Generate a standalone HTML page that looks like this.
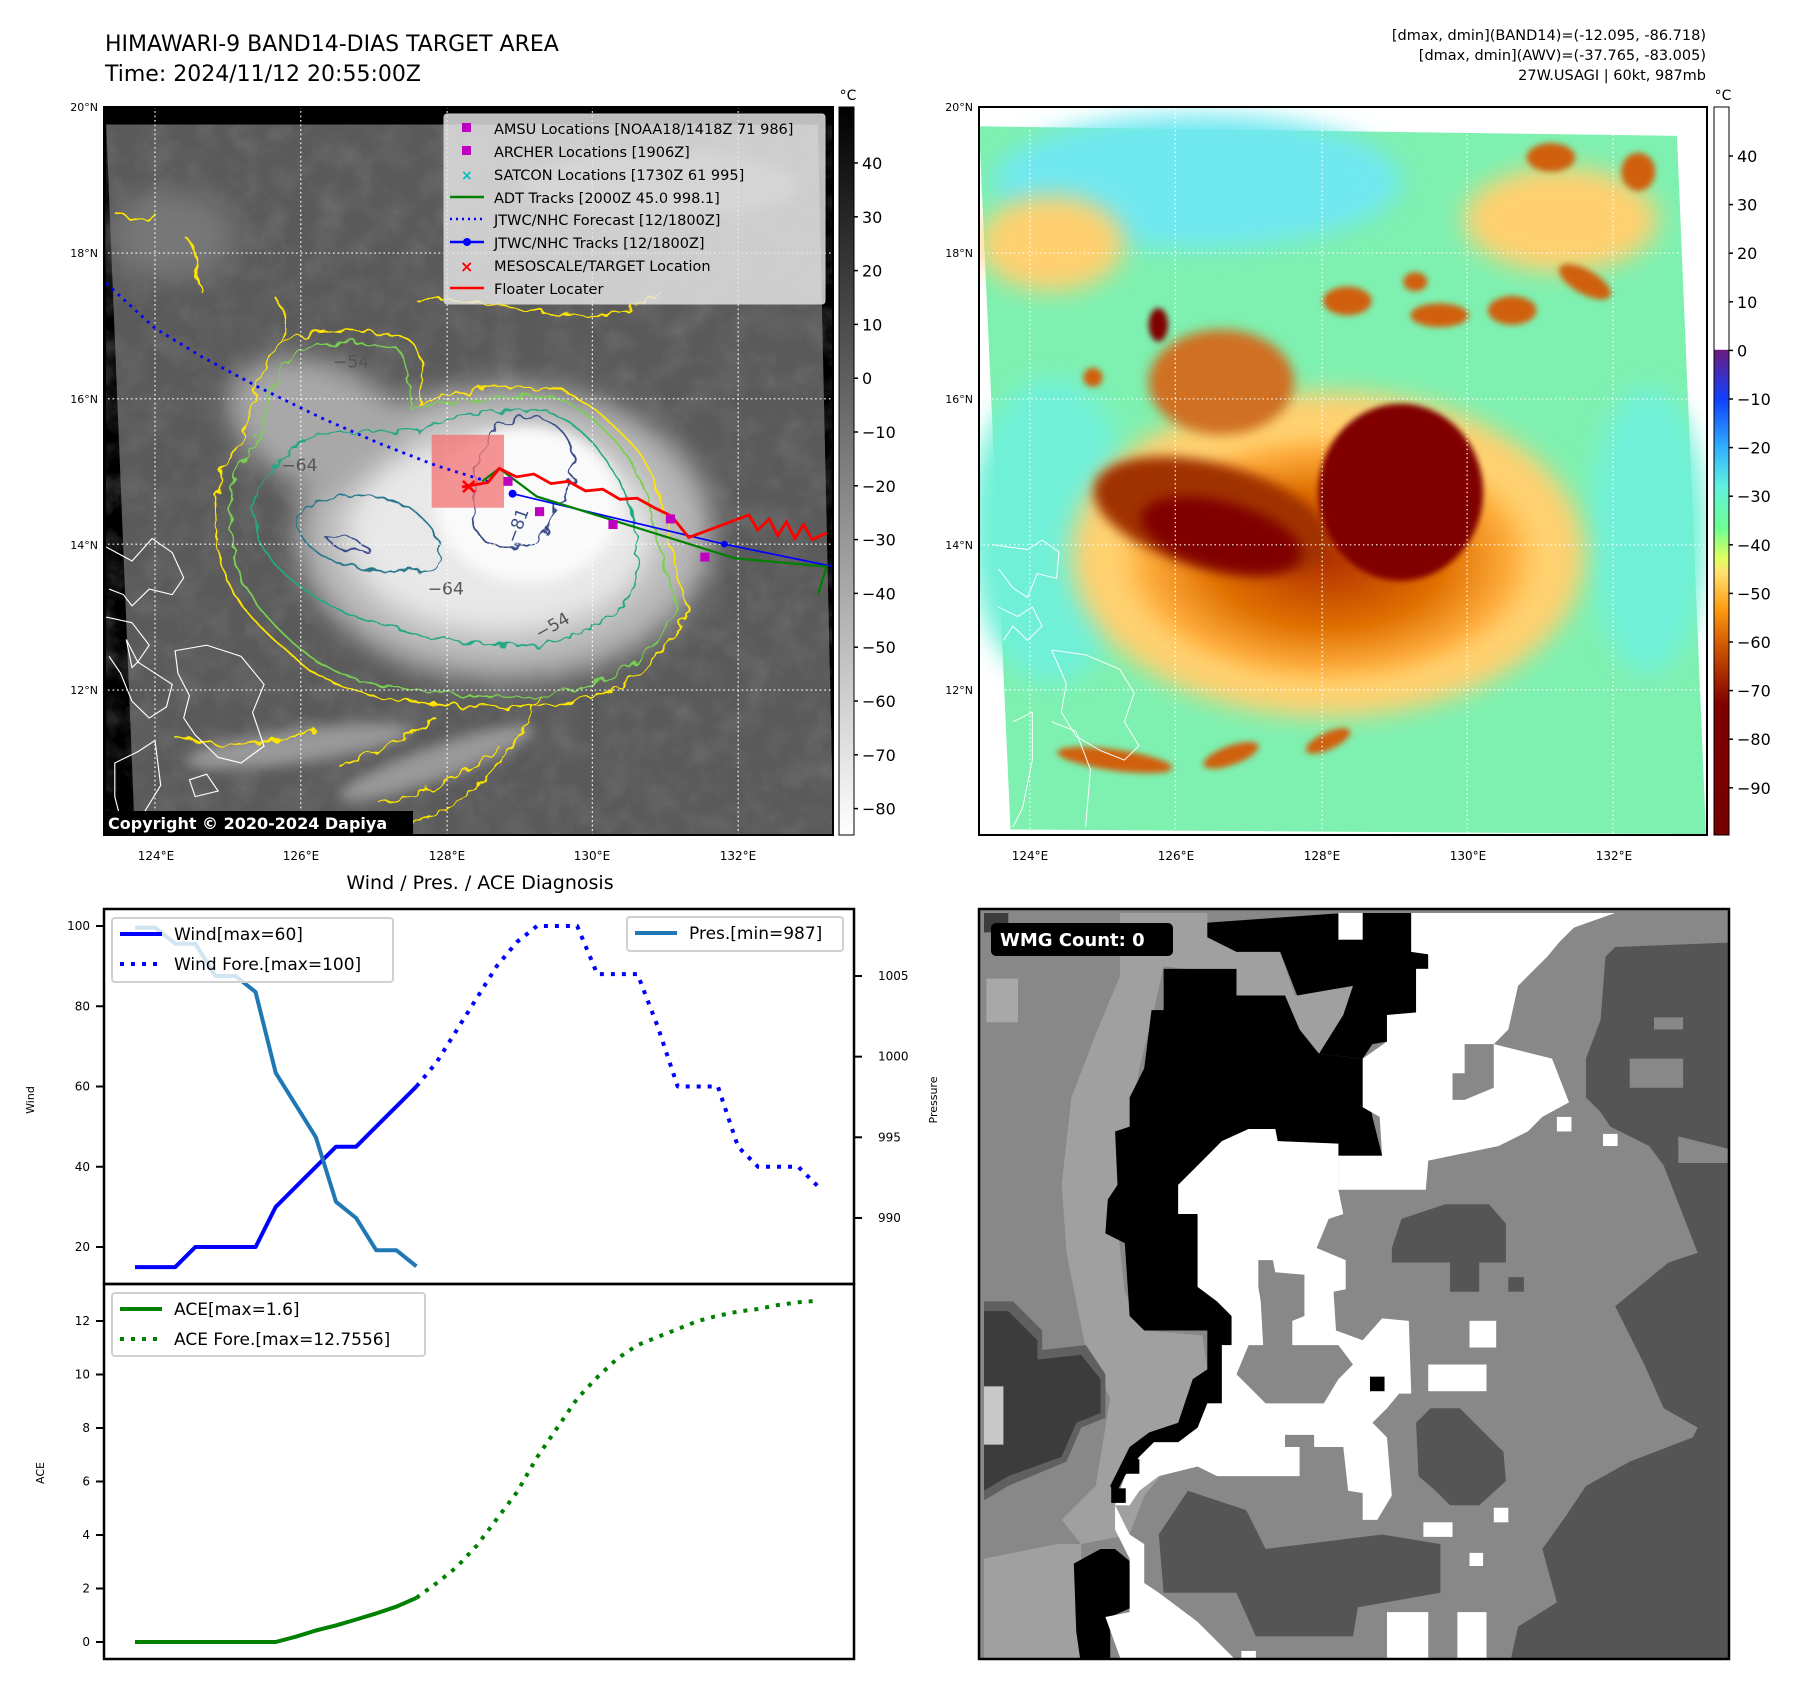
<!DOCTYPE html>
<html><head><meta charset="utf-8"><style>
html,body{margin:0;padding:0;background:#fff;}
svg{display:block;font-family:"DejaVu Sans","Liberation Sans",sans-serif;}
</style></head><body>
<svg id="root" width="1797" height="1696" viewBox="0 0 1797 1696" xmlns="http://www.w3.org/2000/svg">
<defs>
<filter id="b25" x="-50%" y="-50%" width="200%" height="200%"><feGaussianBlur stdDeviation="25"/></filter>
<filter id="b12" x="-50%" y="-50%" width="200%" height="200%"><feGaussianBlur stdDeviation="12"/></filter>
<filter id="b6" x="-50%" y="-50%" width="200%" height="200%"><feGaussianBlur stdDeviation="6"/></filter>
<filter id="wig" x="-10%" y="-10%" width="120%" height="120%"><feTurbulence type="fractalNoise" baseFrequency="0.04" numOctaves="2" seed="3"/><feDisplacementMap in="SourceGraphic" scale="22"/></filter>
<filter id="tex" x="0" y="0" width="100%" height="100%"><feTurbulence type="fractalNoise" baseFrequency="0.02" numOctaves="4" seed="7"/><feColorMatrix type="matrix" values="0 0 0 0 0.2  0 0 0 0 0.2  0 0 0 0 0.2  0.9 0.9 0 0 -0.75"/></filter>
<linearGradient id="cbL" x1="0" y1="0" x2="0" y2="1"><stop offset="0" stop-color="#000"/><stop offset="1" stop-color="#fff"/></linearGradient>
<linearGradient id="cbR" x1="0" y1="0" x2="0" y2="1">
<stop offset="0" stop-color="#fff"/><stop offset="0.333" stop-color="#fff"/><stop offset="0.334" stop-color="#6a1c80"/>
<stop offset="0.401" stop-color="#1040ff"/><stop offset="0.468" stop-color="#30b0ff"/><stop offset="0.52" stop-color="#60f0e0"/>
<stop offset="0.58" stop-color="#70ff90"/><stop offset="0.62" stop-color="#e0ff60"/><stop offset="0.64" stop-color="#ffe070"/>
<stop offset="0.69" stop-color="#ff9a10"/><stop offset="0.74" stop-color="#d05800"/><stop offset="0.79" stop-color="#a02000"/>
<stop offset="0.82" stop-color="#800000"/><stop offset="1" stop-color="#780000"/></linearGradient>
<radialGradient id="orangeR"><stop offset="0" stop-color="#b03000"/><stop offset="0.5" stop-color="#e07000"/><stop offset="0.8" stop-color="#ffb040"/><stop offset="1" stop-color="#ffe080" stop-opacity="0"/></radialGradient>
<clipPath id="clipL"><rect x="104" y="107" width="729" height="728"/></clipPath>
<clipPath id="clipR"><rect x="979" y="107" width="728" height="728"/></clipPath>
<clipPath id="clipBR"><rect x="979" y="909" width="750" height="750"/></clipPath>
</defs>

<text x="105" y="51" font-size="22">HIMAWARI-9 BAND14-DIAS TARGET AREA</text>
<text x="105" y="81" font-size="22">Time: 2024/11/12 20:55:00Z</text>
<g font-size="14.5" text-anchor="end">
<text x="1706" y="40">[dmax, dmin](BAND14)=(-12.095, -86.718)</text>
<text x="1706" y="60">[dmax, dmin](AWV)=(-37.765, -83.005)</text>
<text x="1706" y="80">27W.USAGI | 60kt, 987mb</text>
</g>

<g>
<rect x="104" y="107" width="729" height="728" fill="#000"/>
<g clip-path="url(#clipL)">
<g transform="scale(0.574 0.561)">
<polygon points="185,222 1425,222 1452,1490 235,1490" fill="#5a5a5a"/>
<polygon points="185,222 1425,222 1452,1490 235,1490" fill="#fff" filter="url(#tex)" opacity="0.7"/>
<ellipse cx="880" cy="950" rx="360" ry="260" fill="#b8b8b8" filter="url(#b25)"/>
<ellipse cx="560" cy="760" rx="170" ry="110" fill="#a8a8a8" filter="url(#b25)" transform="rotate(25 560 760)"/>
<ellipse cx="870" cy="950" rx="270" ry="180" fill="#e8e8e8" filter="url(#b25)"/>
<ellipse cx="920" cy="900" rx="160" ry="140" fill="#fafafa" filter="url(#b12)"/>
<ellipse cx="520" cy="1330" rx="200" ry="30" fill="#999" filter="url(#b12)" transform="rotate(-8 520 1330)"/>
<ellipse cx="760" cy="1360" rx="180" ry="30" fill="#999" filter="url(#b12)" transform="rotate(-20 760 1360)"/>
<ellipse cx="1150" cy="330" rx="240" ry="60" fill="#888" filter="url(#b12)"/>
<ellipse cx="300" cy="420" rx="110" ry="80" fill="#777" filter="url(#b25)"/>
<g fill="none" stroke-width="3" filter="url(#wig)">
<path stroke="#ffe600" d="M375,890 C380,820 430,790 440,740 C440,680 470,620 520,600 C580,580 640,590 700,600 C740,610 740,680 730,720 C770,700 850,690 940,690 C1000,690 1050,740 1090,780 C1130,820 1150,870 1160,930 C1170,990 1190,1050 1200,1090 C1170,1160 1100,1230 1000,1250 C900,1270 800,1260 720,1250 C620,1240 560,1220 500,1160 C440,1110 400,1060 380,990 Z"/>
<path stroke="#7ad151" d="M400,890 C405,830 450,800 460,750 C465,690 490,640 530,620 C580,605 640,610 690,620 C715,640 715,690 715,730 C770,715 850,705 935,705 C990,705 1040,750 1075,790 C1110,830 1130,880 1140,935 C1150,990 1170,1050 1180,1085 C1150,1150 1090,1210 1000,1230 C900,1250 800,1240 725,1230 C630,1220 570,1200 515,1150 C460,1100 420,1050 405,990 Z"/>
<path stroke="#22a884" d="M440,900 C450,850 490,810 520,790 C560,760 640,770 720,770 C800,735 900,725 960,735 C1020,760 1060,820 1090,880 C1110,940 1120,1000 1100,1060 C1050,1120 980,1150 900,1150 C800,1150 700,1130 620,1100 C540,1070 470,1010 450,960 Z"/>
<path stroke="#2a788e" d="M520,920 C560,870 640,880 700,900 C750,920 780,980 760,1010 C700,1030 620,1020 560,990 C530,970 515,950 520,920 Z"/>
<path stroke="#3b4e8a" d="M830,890 C820,820 850,760 900,745 C960,735 1005,775 1000,840 C990,880 970,890 960,930 C940,980 880,990 840,960 C820,940 820,920 830,890 Z"/>
<path stroke="#3b4e8a" d="M570,960 C590,950 620,960 640,975 C620,990 590,985 570,960 Z"/>
<path stroke="#ffe600" d="M300,1310 C380,1340 460,1330 550,1300 M590,1365 C680,1330 730,1300 760,1280 M660,1430 C730,1420 800,1390 870,1330 M720,1470 C800,1440 880,1380 940,1240 M200,380 C240,400 260,390 270,380 M320,420 C350,440 340,480 350,520 M730,540 C800,520 900,560 1000,560 C1080,570 1120,540 1150,520 M480,530 C500,560 500,600 490,620"/>
</g>
<g font-size="30" fill="#555">
<text x="580" y="655">−54</text><text x="490" y="840">−64</text><text x="745" y="1060">−64</text><text x="940" y="1140" transform="rotate(-30 940 1140)">−54</text><text x="900" y="970" transform="rotate(-70 900 970)" fill="#3b4e8a">−81</text>
</g>
<g fill="none" stroke="#fff" stroke-width="2">
<path d="M185,975 L230,1000 L265,960 L300,985 L320,1030 L300,1060 L260,1050 L230,1080 L215,1060 L190,1050"/>
<path d="M185,1100 L230,1110 L260,1150 L240,1180 L270,1200 L300,1220 L290,1260 L260,1280 L230,1250 L210,1200 L190,1170"/>
<path d="M305,1160 L360,1150 L420,1170 L460,1220 L440,1270 L460,1330 L420,1360 L380,1350 L340,1310 L320,1280 L330,1240 L310,1200 Z"/>
<path d="M200,1360 L240,1340 L270,1320 L280,1400 L250,1450 L215,1480 L200,1420 Z"/>
<path d="M220,1140 L240,1180 L230,1190 Z M330,1390 L360,1380 L380,1410 L340,1420 Z"/>
</g>
<g stroke="#fff" stroke-width="2" stroke-dasharray="3 5" fill="none">
<path d="M270,190 V1490 M524,190 V1490 M779,190 V1490 M1032,190 V1490 M1286,190 V1490"/>
<path d="M180,451 H1452 M180,711 H1452 M180,970 H1452 M180,1230 H1452"/>
</g>
<rect x="752" y="775" width="126" height="130" fill="#f07070" opacity="0.75"/>
<polyline points="185,505 270,585 350,635 450,690 560,745 660,790 760,830 855,860" fill="none" stroke="#0000ff" stroke-width="5" stroke-dasharray="5 9"/>
<polyline points="893,880 1262,970 1452,1010" fill="none" stroke="#0000ff" stroke-width="3"/>
<circle cx="893" cy="880" r="7" fill="#0000ff"/><circle cx="1262" cy="970" r="6" fill="#0000ff"/>
<polyline points="840,858 870,835 935,885 1280,995 1310,998 1440,1010 1425,1060" fill="none" stroke="#008000" stroke-width="4"/>
<polyline points="805,868 850,860 870,835 900,850 930,845 960,862 990,858 1020,875 1050,872 1080,890 1110,888 1140,905 1170,920 1200,958 1305,918 1320,945 1340,925 1355,955 1370,930 1385,960 1400,935 1415,962 1440,950" fill="none" stroke="#ff0000" stroke-width="5"/>
<g fill="#c000c0">
<rect x="877" y="850" width="16" height="16"/><rect x="932" y="904" width="16" height="16"/><rect x="1060" y="927" width="16" height="16"/><rect x="1220" y="985" width="16" height="16"/><rect x="1160" y="917" width="16" height="16"/>
</g>
<text x="800" y="880" fill="#ff0000" font-size="40" font-weight="bold">×</text>
</g>
</g>
<g>
<rect x="444" y="114" width="381" height="190" rx="3" fill="#e6e6e6" fill-opacity="0.82" stroke="#ccc"/>
<g font-size="14.5" fill="#000">
<rect x="462" y="123" width="9" height="9" fill="#c000c0"/><text x="494" y="134">AMSU Locations [NOAA18/1418Z 71 986]</text>
<rect x="462" y="146" width="9" height="9" fill="#c000c0"/><text x="494" y="157">ARCHER Locations [1906Z]</text>
<text x="461" y="180" fill="#00c0c0" font-size="14" font-weight="bold">×</text><text x="494" y="180">SATCON Locations [1730Z 61 995]</text>
<line x1="450" y1="197" x2="484" y2="197" stroke="#008000" stroke-width="2.5"/><text x="494" y="203">ADT Tracks [2000Z 45.0 998.1]</text>
<line x1="450" y1="219" x2="484" y2="219" stroke="#0000ff" stroke-width="2.5" stroke-dasharray="2 4"/><text x="494" y="225">JTWC/NHC Forecast [12/1800Z]</text>
<line x1="450" y1="242" x2="484" y2="242" stroke="#0000ff" stroke-width="2.5"/><circle cx="467" cy="242" r="4" fill="#0000ff"/><text x="494" y="248">JTWC/NHC Tracks [12/1800Z]</text>
<text x="460" y="272" fill="#ff0000" font-size="16" font-weight="bold">×</text><text x="494" y="271">MESOSCALE/TARGET Location</text>
<line x1="450" y1="288" x2="484" y2="288" stroke="#ff0000" stroke-width="2.5"/><text x="494" y="294">Floater Locater</text>
</g>
</g>
<rect x="104" y="811" width="309" height="24" fill="#000"/>
<text x="108" y="829" fill="#fff" font-size="16" font-weight="bold">Copyright © 2020-2024 Dapiya</text>
<rect x="104" y="107" width="729" height="728" fill="none" stroke="#000" stroke-width="2"/>
<g font-size="12" text-anchor="middle">
<text x="156" y="860">124°E</text><text x="301" y="860">126°E</text><text x="447" y="860">128°E</text><text x="592" y="860">130°E</text><text x="738" y="860">132°E</text></g>
<g font-size="11" text-anchor="end">
<text x="98" y="111">20°N</text><text x="98" y="257">18°N</text><text x="98" y="403">16°N</text><text x="98" y="549">14°N</text><text x="98" y="694">12°N</text></g>
<g>
<rect x="839" y="107" width="15" height="728" fill="url(#cbL)" stroke="#000" stroke-width="1"/>
<text x="848" y="100" font-size="14" text-anchor="middle">°C</text>
<g font-size="16" id="cbLticks"></g>
</g>

<g>
<g clip-path="url(#clipR)">
<g transform="translate(979 100) scale(0.4847 0.4783)">
<polygon points="0,55 1440,75 1500,1535 65,1525" fill="#7ef0b0"/>
<ellipse cx="450" cy="170" rx="420" ry="140" fill="#70e8f0" filter="url(#b25)"/>
<ellipse cx="150" cy="900" rx="170" ry="320" fill="#70f0d8" filter="url(#b25)"/>
<ellipse cx="1380" cy="900" rx="120" ry="300" fill="#70f0d8" filter="url(#b25)"/>
<ellipse cx="720" cy="950" rx="530" ry="340" fill="#ffd070" filter="url(#b25)"/>
<ellipse cx="720" cy="960" rx="480" ry="290" fill="url(#orangeR)" filter="url(#b12)"/>
<ellipse cx="150" cy="300" rx="150" ry="100" fill="#ffd070" filter="url(#b25)"/>
<ellipse cx="1200" cy="250" rx="200" ry="110" fill="#ffd070" filter="url(#b25)"/>
<ellipse cx="500" cy="590" rx="150" ry="110" fill="#d07020" filter="url(#b12)"/>
<ellipse cx="480" cy="870" rx="250" ry="110" fill="#a03000" filter="url(#b12)" transform="rotate(15 480 870)"/>
<ellipse cx="870" cy="820" rx="170" ry="185" fill="#800000" filter="url(#b6)"/>
<ellipse cx="500" cy="910" rx="170" ry="70" fill="#800000" filter="url(#b12)" transform="rotate(15 500 910)"/>
<g fill="#d06010" filter="url(#b6)">
<ellipse cx="950" cy="450" rx="60" ry="25"/><ellipse cx="760" cy="420" rx="50" ry="30"/><ellipse cx="1250" cy="380" rx="60" ry="25" transform="rotate(30 1250 380)"/><ellipse cx="1100" cy="440" rx="50" ry="30"/><ellipse cx="900" cy="380" rx="25" ry="20"/><ellipse cx="1360" cy="150" rx="35" ry="40"/><ellipse cx="1180" cy="120" rx="50" ry="30"/>
<ellipse cx="280" cy="1380" rx="120" ry="22" transform="rotate(8 280 1380)"/><ellipse cx="520" cy="1370" rx="60" ry="20" transform="rotate(-20 520 1370)"/><ellipse cx="720" cy="1340" rx="50" ry="18" transform="rotate(-25 720 1340)"/><ellipse cx="370" cy="470" rx="20" ry="35" fill="#800000"/><ellipse cx="235" cy="580" rx="20" ry="20"/>
</g>
<g fill="none" stroke="#fff" stroke-width="2">
<path d="M30,930 L100,940 L130,920 L165,945 L160,1000 L120,990 L100,1040 L70,1020 L40,980"/>
<path d="M40,1060 L80,1080 L110,1060 L130,1100 L100,1130 L70,1100 L50,1130"/>
<path d="M150,1150 L220,1160 L290,1190 L320,1240 L300,1300 L330,1350 L300,1380 L250,1360 L200,1330 L170,1280 L180,1220 Z"/>
<path d="M70,1300 L110,1280 L110,1380 L90,1480 L70,1520 M150,1300 L200,1320 L230,1400 L220,1520"/>
</g>
<g stroke="#fff" stroke-width="2.5" stroke-dasharray="3 6" fill="none">
<path d="M105,0 V1540 M405,0 V1540 M708,0 V1540 M1007,0 V1540 M1308,0 V1540"/>
<path d="M0,320 H1500 M0,625 H1500 M0,930 H1500 M0,1233 H1500"/>
</g>
</g>
</g>
<rect x="979" y="107" width="728" height="728" fill="none" stroke="#000" stroke-width="2"/>
</g>
<g font-size="12" text-anchor="middle">
<text x="1030" y="860">124°E</text><text x="1176" y="860">126°E</text><text x="1322" y="860">128°E</text><text x="1468" y="860">130°E</text><text x="1614" y="860">132°E</text></g>
<g font-size="11" text-anchor="end">
<text x="973" y="111">20°N</text><text x="973" y="257">18°N</text><text x="973" y="403">16°N</text><text x="973" y="549">14°N</text><text x="973" y="694">12°N</text></g>
<g>
<rect x="1714" y="107" width="15" height="728" fill="url(#cbR)" stroke="#000" stroke-width="1"/>
<text x="1723" y="100" font-size="14" text-anchor="middle">°C</text>
<g font-size="16" id="cbRticks"></g>
</g>

<text x="480" y="889" font-size="19" text-anchor="middle">Wind / Pres. / ACE Diagnosis</text>
<g id="chart"></g>

<g>
<rect x="979" y="909" width="750" height="750" fill="#888"/>
<g clip-path="url(#clipBR)">
<g transform="translate(984 913) scale(0.4855)">
<rect x="-20" y="-20" width="1600" height="1600" fill="#888"/>
<polygon fill="#a0a0a0" points="280,0 460,0 460,120 370,110 350,200 320,320 300,440 270,600 290,780 330,860 450,870 470,1010 430,1080 330,1200 300,1280 200,1300 160,1250 230,1180 260,1000 210,900 170,700 160,560 180,380 230,250 280,130"/>
<polygon fill="#a0a0a0" points="460,40 520,60 610,80 640,170 760,150 750,290 690,290 640,230 520,170 460,120"/>
<polygon fill="#a0a0a0" points="0,1330 150,1300 200,1300 200,1550 0,1550"/>
<rect x="5" y="135" width="65" height="90" fill="#a8a8a8"/>
<polygon fill="#555" points="1300,70 1560,60 1560,1560 1080,1560 1100,1470 1180,1420 1150,1310 1200,1240 1240,1180 1330,1130 1460,1080 1470,1060 1400,1020 1360,930 1300,810 1410,720 1470,700 1400,520 1370,480 1290,440 1270,410 1240,380 1240,300 1270,220 1280,90"/>
<polygon fill="#888" points="1330,300 1440,300 1440,360 1330,360"/><polygon fill="#888" points="1380,215 1440,215 1440,240 1380,240"/><polygon fill="#888" points="1430,460 1550,490 1550,515 1430,515"/>
<polygon fill="#555" points="360,1280 420,1190 540,1230 580,1310 820,1280 940,1300 940,1400 770,1430 760,1490 560,1490 520,1400 370,1400"/>
<polygon fill="#555" points="840,690 860,630 950,600 1040,600 1075,640 1075,720 1020,720 1020,780 960,780 960,720 840,720"/>
<polygon fill="#555" points="890,1050 920,1020 980,1020 1010,1050 1070,1110 1075,1170 1020,1220 960,1220 930,1190 895,1160"/>
<rect x="1080" y="750" width="32" height="30" fill="#555"/>
<polygon fill="#606060" points="0,800 60,800 120,860 120,900 210,890 250,950 250,1040 200,1060 170,1130 50,1180 0,1210"/>
<polygon fill="#3c3c3c" points="0,820 50,820 110,880 110,920 200,910 240,960 240,1030 190,1050 160,1120 50,1160 0,1190"/>
<polygon fill="#3c3c3c" points="0,0 50,0 50,40 0,40"/>
<rect x="0" y="975" width="40" height="120" fill="#c8c8c8"/>
<polygon fill="#000" points="370,115 520,115 520,170 620,170 650,240 690,290 780,300 800,420 820,500 730,500 720,475 600,470 545,445 490,470 460,500 430,530 400,560 400,620 440,620 440,770 480,800 510,830 510,890 490,890 490,1010 460,1010 440,1070 400,1090 350,1090 320,1120 290,1160 270,1200 260,1180 300,1100 340,1070 400,1050 430,960 460,940 460,860 330,860 300,830 290,680 250,660 255,590 275,560 270,450 300,440 300,380 330,320 345,200 370,200"/>
<polygon fill="#000" points="460,20 740,0 880,0 880,80 915,85 915,115 890,115 890,205 830,210 830,265 800,270 780,300 690,290 740,210 760,150 645,170 610,80 520,80 460,50"/>
<polygon fill="#000" points="185,1340 240,1310 270,1310 300,1335 305,1430 260,1450 260,1540 200,1550 190,1480"/>
<polygon fill="#fff" points="880,0 1300,0 1215,30 1185,60 1160,90 1130,120 1100,150 1080,240 1050,270 1170,300 1205,390 1150,420 1120,450 1060,480 915,510 910,570 730,570 730,500 820,500 815,420 780,400 780,300 830,265 830,210 890,205 890,115 915,115 915,85 880,80"/>
<polygon fill="#888" points="990,270 1050,270 1050,360 990,385 965,385 965,330 990,330"/>
<polygon fill="#fff" points="400,560 430,530 490,470 545,445 600,445 605,470 730,475 730,570 740,620 710,630 685,690 745,715 745,775 720,780 725,860 780,880 820,835 875,840 880,990 855,990 830,1020 800,1050 830,1080 840,1200 810,1250 780,1250 780,1195 750,1190 740,1100 650,1160 480,1160 440,1140 360,1160 320,1190 300,1220 270,1220 300,1280 330,1300 330,1380 360,1400 400,1430 440,1460 500,1520 540,1560 290,1560 250,1450 300,1440 300,1330 270,1270 270,1220 290,1160 320,1120 350,1090 400,1090 440,1060 460,1010 490,1010 490,890 510,890 510,830 480,800 440,770 440,620 400,620"/>
<polygon fill="#888" points="565,715 595,715 600,740 660,745 660,830 635,840 635,890 730,890 760,930 730,960 700,1010 580,1010 550,980 520,950 545,890 575,890 570,800 565,770"/>
<polygon fill="#888" points="620,1075 680,1075 680,1100 740,1100 740,1190 650,1160 650,1100 620,1100"/>
<g fill="#fff">
<rect x="1000" y="840" width="55" height="55"/><rect x="915" y="930" width="120" height="55"/><rect x="1180" y="420" width="30" height="30"/><rect x="1275" y="455" width="30" height="25"/><rect x="905" y="1255" width="60" height="30"/><rect x="1050" y="1225" width="30" height="30"/><rect x="1000" y="1318" width="28" height="27"/><rect x="975" y="1440" width="60" height="110"/><rect x="830" y="1440" width="85" height="110"/><rect x="530" y="1520" width="30" height="40"/><rect x="730" y="0" width="50" height="55"/>
</g>
<rect x="795" y="955" width="30" height="30" fill="#000"/>
<rect x="262" y="1185" width="30" height="30" fill="#000"/>
<rect x="290" y="1125" width="30" height="30" fill="#000"/>
</g>
</g>
<rect x="979" y="909" width="750" height="750" fill="none" stroke="#000" stroke-width="2.5"/>
<rect x="991" y="923" width="182" height="33" rx="5" fill="#000"/>
<text x="1000" y="946" fill="#fff" font-size="18" font-weight="bold">WMG Count: 0</text>
</g>
</svg>
<script>
const windObs = [15,15,15,20,20,20,20,30,35,40,45,45,50,55,60];
const windFore = [60,66,74,82,90,96,100,100,100,88,88,88,75,60,60,60,45,40,40,40,35];
const presObs = [1008,1008,1007,1007,1005,1005,1004,999,997,995,991,990,988,988,987];
const aceObs = [0,0,0,0,0,0,0,0,0.2,0.43,0.62,0.84,1.07,1.32,1.65];
const aceFore = [1.65,2.2,2.8,3.6,4.6,5.6,6.9,8.0,9.1,9.9,10.6,11.1,11.4,11.7,12.0,12.2,12.35,12.45,12.6,12.7,12.76];
const windTicks = [20,40,60,80,100];
const presTicks = [990,995,1000,1005];
const aceTicks = [0,2,4,6,8,10,12];
const cbLTicks = [40,30,20,10,0,-10,-20,-30,-40,-50,-60,-70,-80];
const cbRTicks = [40,30,20,10,0,-10,-20,-30,-40,-50,-60,-70,-80,-90];

const NS='http://www.w3.org/2000/svg';
function mk(tag, attrs, parent){const e=document.createElementNS(NS,tag);for(const k in attrs)e.setAttribute(k,attrs[k]);parent.appendChild(e);return e;}
const L=104, R=854, T1=909, D=1284, B=1659;
const xs = i => 135 + i*20.1;
const yW = v => 1247 - (v-20)*4.0125;
const yP = v => 976 + (1005-v)*16.13;
const yA = v => 1642 - v*26.75;
const chart=document.getElementById('chart');

function poly(vals, off, fy, color, w, dash, name){
  const pts=vals.map((v,i)=>xs(i+off).toFixed(1)+','+fy(v).toFixed(1)).join(' ');
  const p=mk('polyline',{points:pts,fill:'none',stroke:color,'stroke-width':w,'stroke-linejoin':'round'},chart);
  if(dash)p.setAttribute('stroke-dasharray',dash);
  
  
}
mk('rect',{x:L,y:T1,width:R-L,height:D-T1,fill:'#fff'},chart);
poly(windObs,0,yW,'#0000ff',4,null,'wind-line');
poly(windFore,14,yW,'#0000ff',4,'4 7','wind-forecast-line');
poly(presObs,0,yP,'#1f77b4',4,null,'pressure-line');
poly(aceObs,0,yA,'#008000',4,null,'ace-line');
poly(aceFore,14,yA,'#008000',4,'4 7','ace-forecast-line');
mk('rect',{x:L,y:T1,width:R-L,height:D-T1,fill:'none',stroke:'#000','stroke-width':2.5},chart);
mk('rect',{x:L,y:D,width:R-L,height:B-D,fill:'none',stroke:'#000','stroke-width':2.5},chart);

function ticks(list,fy,side,fmt){
  list.forEach(v=>{
    const y=fy(v);
    if(side==='L'){
      mk('line',{x1:L-8,x2:L,y1:y,y2:y,stroke:'#000','stroke-width':2},chart);
      const t=mk('text',{x:L-14,y:y+4,'font-size':12,'text-anchor':'end'},chart);t.textContent=fmt(v);
      
      
    } else {
      mk('line',{x1:R,x2:R+8,y1:y,y2:y,stroke:'#000','stroke-width':2},chart);
      const t=mk('text',{x:R+24,y:y+4,'font-size':12},chart);t.textContent=fmt(v);
      
      
    }
  });
}
ticks(windTicks,yW,'L',String);
ticks(presTicks,yP,'R',String);
ticks(aceTicks,yA,'L',String);
function rotLabel(txt,x,y,name){const t=mk('text',{x:x,y:y,'font-size':11,'text-anchor':'middle',transform:'rotate(-90 '+x+' '+y+')'},chart);t.textContent=txt;
  
  }
rotLabel('Wind',34,1100,'wind-axis-title');
rotLabel('Pressure',937,1100,'pressure-axis-title');
rotLabel('ACE',44,1473,'ace-axis-title');

function legend(x,y,w,h,entries,name){
  const g=mk('g',{},chart);
  
  
  mk('rect',{x:x,y:y,width:w,height:h,rx:3,fill:'#fff','fill-opacity':0.8,stroke:'#d0d0d0','stroke-width':2},g);
  entries.forEach((e,i)=>{
    const ly=y+16+i*30;
    const l=mk('line',{x1:x+8,x2:x+50,y1:ly,y2:ly,stroke:e.c,'stroke-width':4},g);
    if(e.d)l.setAttribute('stroke-dasharray',e.d);
    const t=mk('text',{x:x+62,y:ly+6,'font-size':17},g);t.textContent=e.t;
  });
}
legend(112,918,281,64,[{c:'#0000ff',t:'Wind[max=60]'},{c:'#0000ff',d:'4 7',t:'Wind Fore.[max=100]'}],'wind-legend');
legend(627,917,216,34,[{c:'#1f77b4',t:'Pres.[min=987]'}],'pressure-legend');
legend(112,1293,313,63,[{c:'#008000',t:'ACE[max=1.6]'},{c:'#008000',d:'4 7',t:'ACE Fore.[max=12.7556]'}],'ace-legend');

function cbTicks(id,list,fy,x){
  const g=document.getElementById(id);
  list.forEach(v=>{const y=fy(v);
    mk('line',{x1:x,x2:x+4,y1:y,y2:y,stroke:'#000','stroke-width':1.5},g);
    const t=mk('text',{x:x+8,y:y+6,'font-size':16},g);t.textContent=(v<0?'\u2212'+(-v):String(v));
    
    
  });
}
cbTicks('cbLticks',cbLTicks,v=>163+(40-v)*5.38,854);
cbTicks('cbRticks',cbRTicks,v=>156+(40-v)*4.86,1729);
</script>
</body></html>
